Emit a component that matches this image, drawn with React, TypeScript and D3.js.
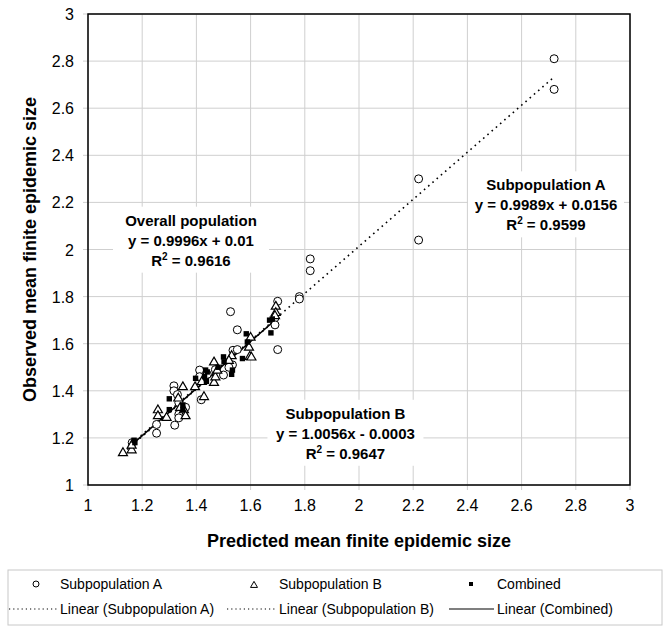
import React from "react";
import * as d3 from "d3";

// ---- data ----
const ticks = [1, 1.2, 1.4, 1.6, 1.8, 2, 2.2, 2.4, 2.6, 2.8, 3];

const subA: [number, number][] = [
  [2.72, 2.81], [2.72, 2.68], [2.22, 2.30], [2.22, 2.04], [1.82, 1.96], [1.82, 1.91],
  [1.78, 1.80], [1.78, 1.79], [1.70, 1.78], [1.69, 1.71], [1.69, 1.68], [1.70, 1.575],
  [1.526, 1.736], [1.551, 1.659], [1.535, 1.572], [1.551, 1.575], [1.533, 1.51],
  [1.50, 1.467], [1.412, 1.488], [1.412, 1.46], [1.418, 1.362], [1.317, 1.421],
  [1.317, 1.40], [1.33, 1.384], [1.335, 1.35], [1.335, 1.30], [1.335, 1.285],
  [1.32, 1.254], [1.253, 1.257], [1.253, 1.22], [1.163, 1.18], [1.47, 1.49],
  [1.52, 1.50], [1.44, 1.47], [1.36, 1.33],
];

const subB: [number, number][] = [
  [1.129, 1.138], [1.161, 1.15], [1.161, 1.17], [1.258, 1.32], [1.258, 1.295],
  [1.29, 1.288], [1.35, 1.418], [1.333, 1.37], [1.354, 1.32], [1.36, 1.295],
  [1.428, 1.376], [1.395, 1.418], [1.465, 1.523], [1.465, 1.436], [1.47, 1.46],
  [1.477, 1.488], [1.53, 1.55], [1.52, 1.53], [1.597, 1.547], [1.603, 1.544],
  [1.60, 1.628], [1.594, 1.586], [1.693, 1.76], [1.693, 1.733], [1.69, 1.72],
  [1.34, 1.33], [1.42, 1.44],
];

const combined: [number, number][] = [
  [1.17, 1.19], [1.173, 1.18], [1.30, 1.366], [1.30, 1.32], [1.35, 1.34],
  [1.35, 1.32], [1.397, 1.453], [1.434, 1.488], [1.44, 1.48], [1.437, 1.44],
  [1.43, 1.46], [1.50, 1.544], [1.502, 1.523], [1.533, 1.488], [1.584, 1.642],
  [1.57, 1.537], [1.588, 1.607], [1.675, 1.646], [1.67, 1.70], [1.68, 1.705],
  [1.48, 1.50], [1.53, 1.47],
];

const trendA = { slope: 0.9989, intercept: 0.0156, x0: 1.163, x1: 2.72 };
const trendB = { slope: 1.0056, intercept: -0.0003, x0: 1.129, x1: 1.693 };
const trendC = { slope: 0.9996, intercept: 0.01, x0: 1.163, x1: 1.686 };

const annotations = [
  { title: "Overall population", eq: "y = 0.9996x + 0.01", r2: "0.9616", cx: 1.38, cy: 2.08 },
  { title: "Subpopulation A", eq: "y = 0.9989x + 0.0156", r2: "0.9599", cx: 2.69, cy: 2.23 },
  { title: "Subpopulation B", eq: "y = 1.0056x - 0.0003", r2: "0.9647", cx: 1.95, cy: 1.26 },
];

const W = 669, H = 635;
const x = d3.scaleLinear().domain([1, 3]).range([88, 630]);
const y = d3.scaleLinear().domain([1, 3]).range([485, 14]);
const fmt = d3.format("~g");
const FONT = "Arial, 'Liberation Sans', sans-serif";

function tri(cx: number, cy: number, s: number) {
  const h = s * 0.866;
  return `M${cx},${cy - h * 0.6}L${cx + s / 2},${cy + h * 0.4}L${cx - s / 2},${cy + h * 0.4}Z`;
}

function trendPath(t: { slope: number; intercept: number; x0: number; x1: number }) {
  const line = d3.line<number>().x((v) => x(v)).y((v) => y(t.slope * v + t.intercept));
  return line([t.x0, t.x1]) || "";
}

export default function App() {
  return (
    <svg width={W} height={H} style={{ position: "absolute", left: 0, top: 0, background: "#fff" }} fontFamily={FONT}>
      <rect x={0} y={0} width={W} height={H} fill="#fff" />
      {/* grid */}
      {ticks.map((t) => (
        <g key={"g" + t}>
          <line x1={x(t)} x2={x(t)} y1={y(1) + 5} y2={y(3)} stroke="#cfcfcf" strokeWidth={1} />
          <line x1={x(1) - 5} x2={x(3)} y1={y(t)} y2={y(t)} stroke="#cfcfcf" strokeWidth={1} />
        </g>
      ))}
      {/* plot border */}
      <rect x={x(1)} y={y(3)} width={x(3) - x(1)} height={y(1) - y(3)} fill="none" stroke="#000" strokeWidth={1.5} />
      {/* tick labels */}
      {ticks.map((t) => (
        <text key={"xt" + t} x={x(t)} y={511} textAnchor="middle" fontSize={16} fill="#000">{fmt(t)}</text>
      ))}
      {ticks.map((t) => (
        <text key={"yt" + t} x={74} y={y(t) + 6} textAnchor="end" fontSize={16} fill="#000">{fmt(t)}</text>
      ))}
      {/* axis titles */}
      <text x={(x(1) + x(3)) / 2} y={547} textAnchor="middle" fontSize={18} fontWeight="bold">Predicted mean finite epidemic size</text>
      <text transform={`translate(36,${(y(1) + y(3)) / 2}) rotate(-90)`} textAnchor="middle" fontSize={18} fontWeight="bold">Observed mean finite epidemic size</text>

      {/* trendlines */}
      <path d={trendPath(trendA)} stroke="#000" strokeWidth={1.6} strokeDasharray="1.6 4" fill="none" />
      <path d={trendPath(trendB)} stroke="#000" strokeWidth={1.6} strokeDasharray="1.6 4" fill="none" />
      <path d={trendPath(trendC)} stroke="#000" strokeWidth={1.5} fill="none" />

      {/* points */}
      {subA.map((p, i) => (
        <circle key={"a" + i} cx={x(p[0])} cy={y(p[1])} r={4} fill="#fff" stroke="#000" strokeWidth={1} />
      ))}
      {subB.map((p, i) => (
        <path key={"b" + i} d={tri(x(p[0]), y(p[1]), 9)} fill="#fff" stroke="#000" strokeWidth={1.2} />
      ))}
      {combined.map((p, i) => (
        <rect key={"c" + i} x={x(p[0]) - 2.7} y={y(p[1]) - 2.7} width={5.4} height={5.4} fill="#000" />
      ))}

      {/* annotations */}
      {annotations.map((a, i) => {
        const cx = x(a.cx), cy = y(a.cy);
        return (
          <g key={"an" + i}>
            <rect x={cx - 78} y={cy - 24} width={156} height={66} fill="#fff" />
            <text x={cx} y={cy - 5} textAnchor="middle" fontSize={15} fontWeight="bold">{a.title}</text>
            <text x={cx} y={cy + 15} textAnchor="middle" fontSize={15} fontWeight="bold">{a.eq}</text>
            <text x={cx} y={cy + 35} textAnchor="middle" fontSize={15} fontWeight="bold">
              R<tspan fontSize={10} dy={-6}>2</tspan><tspan dy={6}> = {a.r2}</tspan>
            </text>
          </g>
        );
      })}

      {/* legend */}
      <rect x={8} y={570} width={654} height={55} fill="#fff" stroke="#c8c8c8" strokeWidth={1} />
      <circle cx={36} cy={584} r={3} fill="#fff" stroke="#000" strokeWidth={1} />
      <text x={60} y={589} fontSize={14}>Subpopulation A</text>
      <path d={tri(254, 585, 7)} fill="#fff" stroke="#000" strokeWidth={1} />
      <text x={279} y={589} fontSize={14}>Subpopulation B</text>
      <rect x={469} y={582} width={4} height={4} fill="#000" />
      <text x={497} y={589} fontSize={14}>Combined</text>

      <line x1={9} x2={58} y1={609} y2={609} stroke="#000" strokeWidth={1.2} strokeDasharray="1.2 3" />
      <text x={60} y={614} fontSize={14}>Linear (Subpopulation A)</text>
      <line x1={227} x2={277} y1={609} y2={609} stroke="#000" strokeWidth={1.2} strokeDasharray="1.2 3" />
      <text x={279} y={614} fontSize={14}>Linear (Subpopulation B)</text>
      <line x1={449} x2={494} y1={609} y2={609} stroke="#000" strokeWidth={1.2} />
      <text x={497} y={614} fontSize={14}>Linear (Combined)</text>
    </svg>
  );
}
